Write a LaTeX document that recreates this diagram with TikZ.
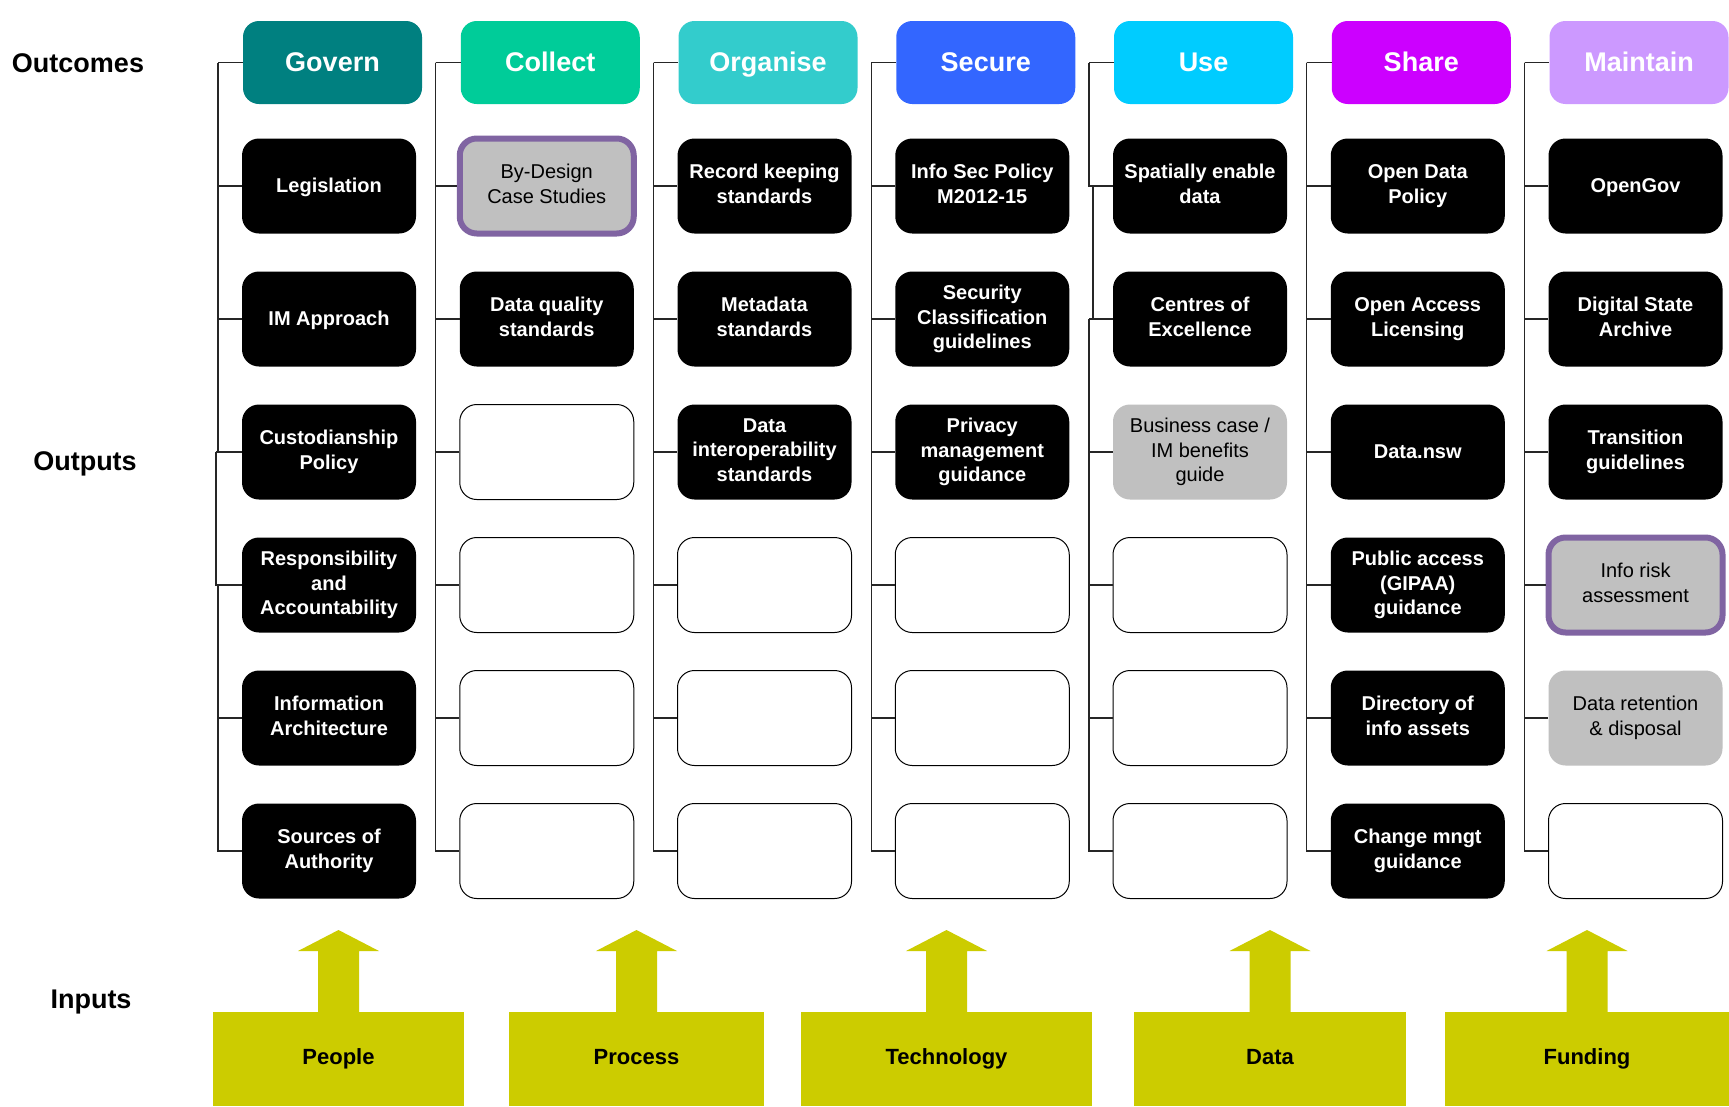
\documentclass[tikz,border=0pt]{standalone}
\usepackage{fontspec}
\setmainfont{Liberation Sans}
\definecolor{cgov}{HTML}{008080}
\definecolor{ccol}{HTML}{00CC99}
\definecolor{corg}{HTML}{33CCCC}
\definecolor{csec}{HTML}{3366FF}
\definecolor{cuse}{HTML}{00CCFF}
\definecolor{cshr}{HTML}{CC00FF}
\definecolor{cmnt}{HTML}{CC99FF}
\definecolor{cinp}{HTML}{CCCC00}
\definecolor{cgray}{HTML}{C0C0C0}
\definecolor{cpurp}{HTML}{8064A2}
\newcommand\PPstrut{\rule[-0.212em]{0pt}{1.117em}}
\newcommand\INstrut{\rule[-8.66pt]{0pt}{28.57pt}}
\tikzset{
  st/.style={execute at begin node=\PPstrut, execute at end node=\PPstrut},
  hdr/.style={st, rounded corners=16, minimum width=179, minimum height=83, inner sep=0, text=white, font=\bfseries\fontsize{27}{32}\selectfont},
  outb/.style={st, rounded corners=17, minimum width=174, minimum height=95, inner sep=0, align=center, font=\fontsize{20}{24.5}\selectfont},
  blk/.style={outb, fill=black, text=white, font=\bfseries\fontsize{20}{24.5}\selectfont},
  gry/.style={outb, fill=cgray, text=black},
  pgry/.style={gry, draw=cpurp, line width=6},
  emp/.style={outb, draw=black, line width=1, fill=white},
  conn/.style={line width=1.2, black!85},
  inbox/.style={execute at begin node=\INstrut, fill=cinp, minimum height=94, inner sep=0, outer sep=0, font=\bfseries\fontsize{22}{26}\selectfont},
  inarrow/.style={fill=cinp},
  lbl/.style={st, font=\bfseries\fontsize{27}{32}\selectfont}
}
\begin{document}
\begin{tikzpicture}[x=1pt,y=-1pt]
\useasboundingbox (0,0) rectangle (1729,1106);
\fill[white] (0,0) rectangle (1729,1106);

% side labels
\node[lbl] (lout) at (78,63) {Outcomes};
\node[lbl] (lput) at (85,461) {Outputs};
\node[lbl] (linp) at (91,999) {Inputs};

% headers
\node[hdr, fill=cgov] (h1) at (332.5,62.5) {Govern};
\node[hdr, fill=ccol] (h2) at (550.25,62.5) {Collect};
\node[hdr, fill=corg] (h3) at (768,62.5) {Organise};
\node[hdr, fill=csec] (h4) at (985.75,62.5) {Secure};
\node[hdr, fill=cuse] (h5) at (1203.5,62.5) {Use};
\node[hdr, fill=cshr] (h6) at (1421.25,62.5) {Share};
\node[hdr, fill=cmnt] (h7) at (1639,62.5) {Maintain};

% Govern
\node[blk] (o1-1) at (329,186) {Legislation};
\node[blk] (o1-2) at (329,319) {IM Approach};
\node[blk] (o1-3) at (329,452) {Custodianship\\Policy};
\node[blk] (o1-4) at (329,585) {Responsibility\\and\\Accountability};
\node[blk] (o1-5) at (329,718) {Information\\Architecture};
\node[blk] (o1-6) at (329,851) {Sources of\\Authority};
% Collect
\node[pgry] (o2-1) at (546.75,186) {By-Design\\Case Studies};
\node[blk] (o2-2) at (546.75,319) {Data quality\\standards};
\node[emp] (o2-3) at (546.75,452) {};
\node[emp] (o2-4) at (546.75,585) {};
\node[emp] (o2-5) at (546.75,718) {};
\node[emp] (o2-6) at (546.75,851) {};
% Organise
\node[blk] (o3-1) at (764.5,186) {Record keeping\\standards};
\node[blk] (o3-2) at (764.5,319) {Metadata\\standards};
\node[blk] (o3-3) at (764.5,452) {Data\\interoperability\\standards};
\node[emp] (o3-4) at (764.5,585) {};
\node[emp] (o3-5) at (764.5,718) {};
\node[emp] (o3-6) at (764.5,851) {};
% Secure
\node[blk] (o4-1) at (982.25,186) {Info Sec Policy\\M2012-15};
\node[blk] (o4-2) at (982.25,319) {Security\\Classification\\guidelines};
\node[blk] (o4-3) at (982.25,452) {Privacy\\management\\guidance};
\node[emp] (o4-4) at (982.25,585) {};
\node[emp] (o4-5) at (982.25,718) {};
\node[emp] (o4-6) at (982.25,851) {};
% Use
\node[blk] (o5-1) at (1200,186) {Spatially enable\\data};
\node[blk] (o5-2) at (1200,319) {Centres of\\Excellence};
\node[gry] (o5-3) at (1200,452) {Business case /\\IM benefits\\guide};
\node[emp] (o5-4) at (1200,585) {};
\node[emp] (o5-5) at (1200,718) {};
\node[emp] (o5-6) at (1200,851) {};
% Share
\node[blk] (o6-1) at (1417.75,186) {Open Data\\Policy};
\node[blk] (o6-2) at (1417.75,319) {Open Access\\Licensing};
\node[blk] (o6-3) at (1417.75,452) {Data.nsw};
\node[blk] (o6-4) at (1417.75,585) {Public access\\(GIPAA)\\guidance};
\node[blk] (o6-5) at (1417.75,718) {Directory of\\info assets};
\node[blk] (o6-6) at (1417.75,851) {Change mngt\\guidance};
% Maintain
\node[blk] (o7-1) at (1635.5,186) {OpenGov};
\node[blk] (o7-2) at (1635.5,319) {Digital State\\Archive};
\node[blk] (o7-3) at (1635.5,452) {Transition\\guidelines};
\node[pgry] (o7-4) at (1635.5,585) {Info risk\\assessment};
\node[gry] (o7-5) at (1635.5,718) {Data retention\\\& disposal};
\node[emp] (o7-6) at (1635.5,851) {};

% connectors, regular columns
\foreach \c/\x in {2/435.75,3/653.5,4/871.25,6/1306.75,7/1524.5}{
  \coordinate (t\c) at (\x,62.5);
  \draw[conn] (t\c) -- (h\c.west);
  \foreach \r in {1,...,6}{\draw[conn] (t\c) |- (o\c-\r.west);}
}
% Govern connectors
\coordinate (t1) at (218,62.5);
\coordinate (t1a) at (216,452);
\coordinate (t1b) at (218,585);
\draw[conn] (t1) -- (h1.west);
\draw[conn] (t1) |- (o1-1.west);
\draw[conn] (t1) |- (o1-2.west);
\draw[conn] (t1) -- (218,452);
\draw[conn] (t1a) -- (o1-3.west);
\draw[conn] (t1a) |- (o1-4.west);
\draw[conn] (t1b) |- (o1-5.west);
\draw[conn] (t1b) |- (o1-6.west);
% Use connectors
\coordinate (t5) at (1089,62.5);
\coordinate (t5a) at (1093,186);
\coordinate (t5b) at (1089,319);
\draw[conn] (t5) -- (h5.west);
\draw[conn] (t5) |- (o5-1.west);
\draw[conn] (t5a) -- (1093,319);
\draw[conn] (t5b) -- (o5-2.west);
\draw[conn] (t5b) |- (o5-3.west);
\draw[conn] (t5b) |- (o5-4.west);
\draw[conn] (t5b) |- (o5-5.west);
\draw[conn] (t5b) |- (o5-6.west);

% inputs
\node[inbox, minimum width=251] (in1) at (338.5,1059) {People};
\node[inbox, minimum width=255] (in2) at (636.5,1059) {Process};
\node[inbox, minimum width=291] (in3) at (946.5,1059) {Technology};
\node[inbox, minimum width=272] (in4) at (1270,1059) {Data};
\node[inbox, minimum width=284] (in5) at (1587,1059) {Funding};
\foreach \i in {1,...,5}{
  \fill[inarrow] (in\i.north) ++(-20.5,0) -- ++(0,-61) -- ++(-20,0) -- ++(40.5,-21) -- ++(40.5,21) -- ++(-20,0) -- ++(0,61) -- cycle;
}
\end{tikzpicture}
\end{document}
